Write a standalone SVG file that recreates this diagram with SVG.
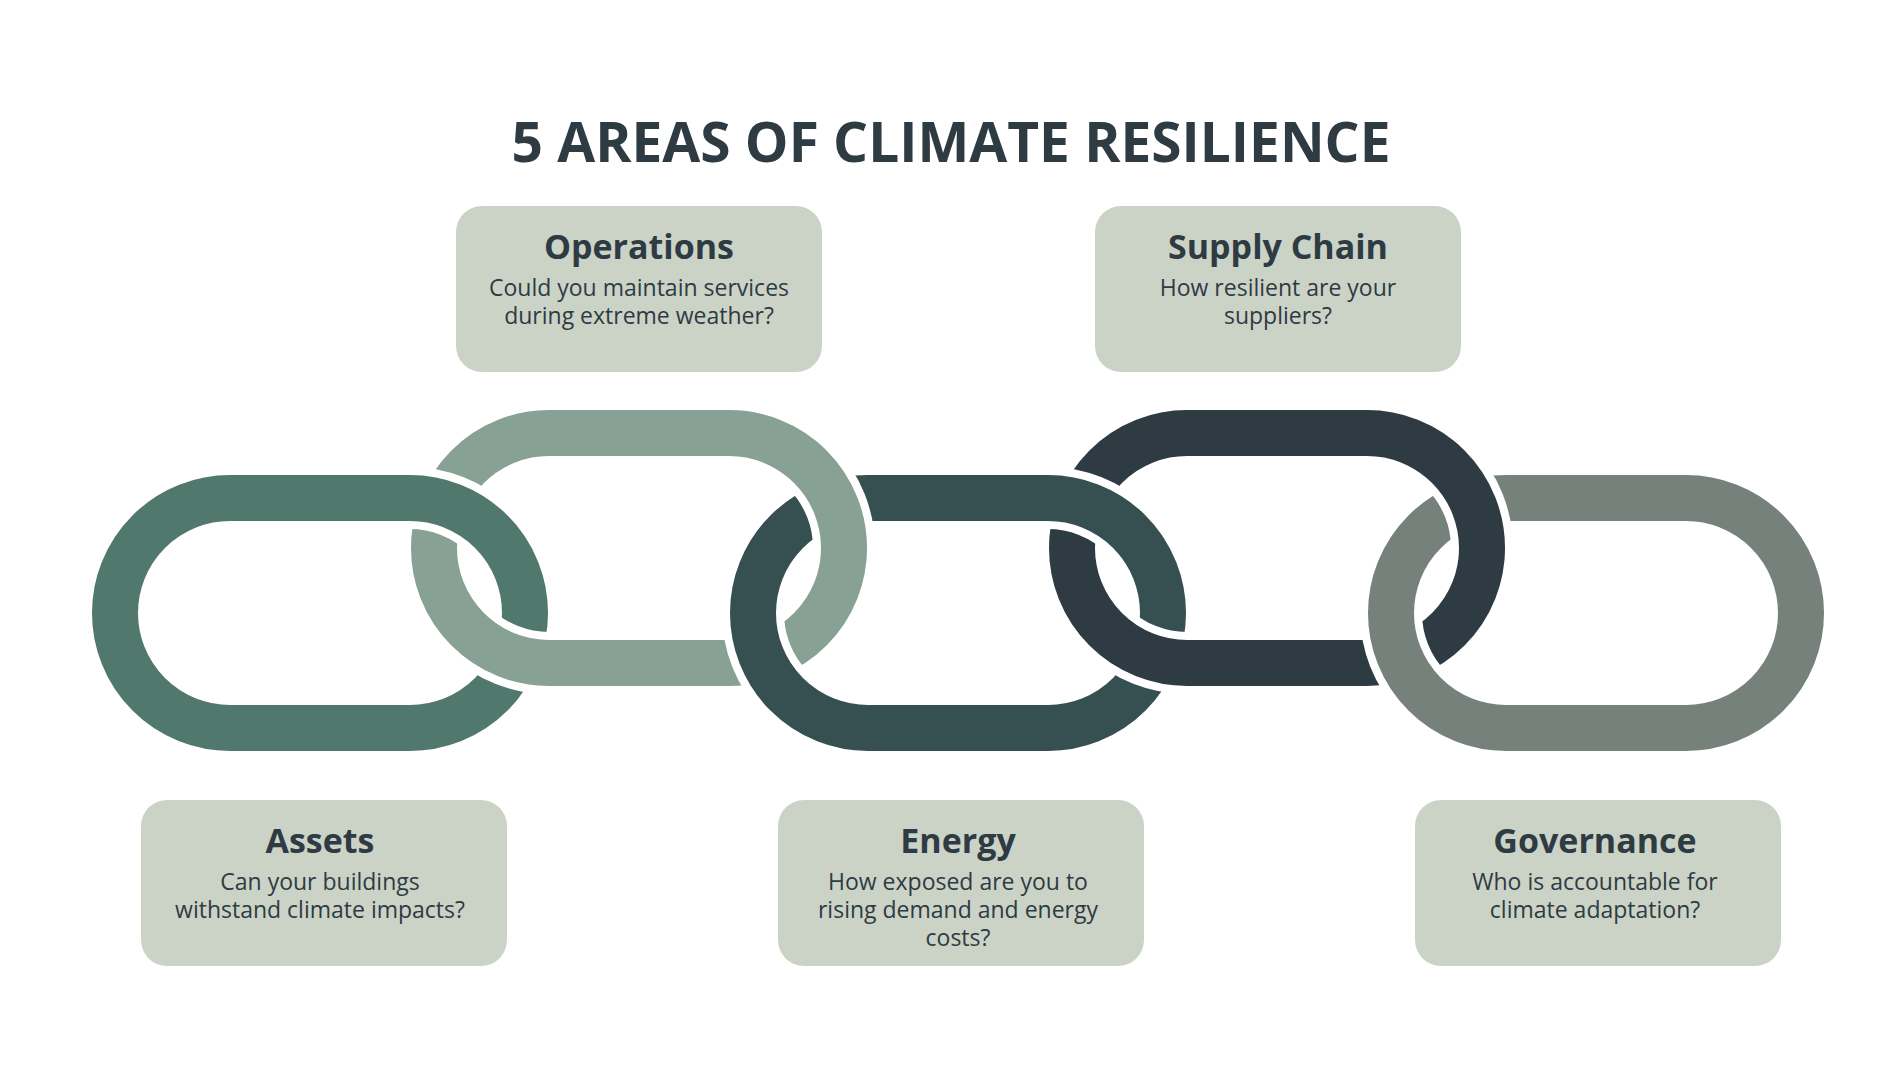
<svg xmlns="http://www.w3.org/2000/svg" width="1900" height="1069" viewBox="0 0 1900 1069">
<style>
.box{fill:#cbd3c7}
.h{font-family:"Open Sans",sans-serif;font-weight:bold;font-size:34px;fill:#2e3b43;text-anchor:middle}
.b{font-family:"Open Sans",sans-serif;font-size:23px;fill:#2e3b43;text-anchor:middle}
.halo{fill:none;stroke:#fff;stroke-width:62}
.lk{fill:none;stroke-width:46}
</style>
<defs>
<rect id="lo" x="115" y="498" width="410" height="230" rx="115"/>
<rect id="le" x="115" y="433" width="410" height="230" rx="115"/>
<clipPath id="c1"><rect x="374" y="440" width="150" height="120"/></clipPath>
<clipPath id="c2"><rect x="770" y="440" width="140" height="120"/></clipPath>
<clipPath id="c3"><rect x="1012" y="440" width="150" height="120"/></clipPath>
<clipPath id="c4"><rect x="1408" y="440" width="140" height="120"/></clipPath>
</defs>
<rect width="1900" height="1069" fill="#fff"/>
<text x="951" y="162" style="font-family:'Open Sans',sans-serif;font-weight:bold;font-size:55px;fill:#2e3b43;text-anchor:middle">5 AREAS OF CLIMATE RESILIENCE</text>
<g id="connectors">
<g id="link1"><use href="#lo" class="halo"/><use href="#lo" class="lk" stroke="#50786c"/></g>
<g id="link2" transform="translate(319,0)"><use href="#le" class="halo"/><use href="#le" class="lk" stroke="#88a195"/></g>
<g id="link3" transform="translate(638,0)"><use href="#lo" class="halo"/><use href="#lo" class="lk" stroke="#364f51"/></g>
<g id="link4" transform="translate(957,0)"><use href="#le" class="halo"/><use href="#le" class="lk" stroke="#2e3b43"/></g>
<g id="link5" transform="translate(1276,0)"><use href="#lo" class="halo"/><use href="#lo" class="lk" stroke="#76817c"/></g>
<g clip-path="url(#c1)"><use href="#lo" class="halo"/><use href="#lo" class="lk" stroke="#50786c"/></g>
<g clip-path="url(#c2)"><g transform="translate(319,0)"><use href="#le" class="halo"/><use href="#le" class="lk" stroke="#88a195"/></g></g>
<g clip-path="url(#c3)"><g transform="translate(638,0)"><use href="#lo" class="halo"/><use href="#lo" class="lk" stroke="#364f51"/></g></g>
<g clip-path="url(#c4)"><g transform="translate(957,0)"><use href="#le" class="halo"/><use href="#le" class="lk" stroke="#2e3b43"/></g></g>
</g>
<g id="operations"><rect class="box" x="456" y="206" width="366" height="166" rx="26"/>
<text class="h" x="639" y="259">Operations</text>
<text class="b" x="639" y="296">Could you maintain services</text><text class="b" x="639" y="324">during extreme weather?</text></g>
<g id="supply"><rect class="box" x="1095" y="206" width="366" height="166" rx="26"/>
<text class="h" x="1278" y="259">Supply Chain</text>
<text class="b" x="1278" y="296">How resilient are your</text><text class="b" x="1278" y="324">suppliers?</text></g>
<g id="assets"><rect class="box" x="141" y="800" width="366" height="166" rx="26"/>
<text class="h" x="320" y="853">Assets</text>
<text class="b" x="320" y="890">Can your buildings</text><text class="b" x="320" y="918">withstand climate impacts?</text></g>
<g id="energy"><rect class="box" x="778" y="800" width="366" height="166" rx="26"/>
<text class="h" x="958" y="853">Energy</text>
<text class="b" x="958" y="890">How exposed are you to</text><text class="b" x="958" y="918">rising demand and energy</text><text class="b" x="958" y="946">costs?</text></g>
<g id="governance"><rect class="box" x="1415" y="800" width="366" height="166" rx="26"/>
<text class="h" x="1595" y="853">Governance</text>
<text class="b" x="1595" y="890">Who is accountable for</text><text class="b" x="1595" y="918">climate adaptation?</text></g>
</svg>
